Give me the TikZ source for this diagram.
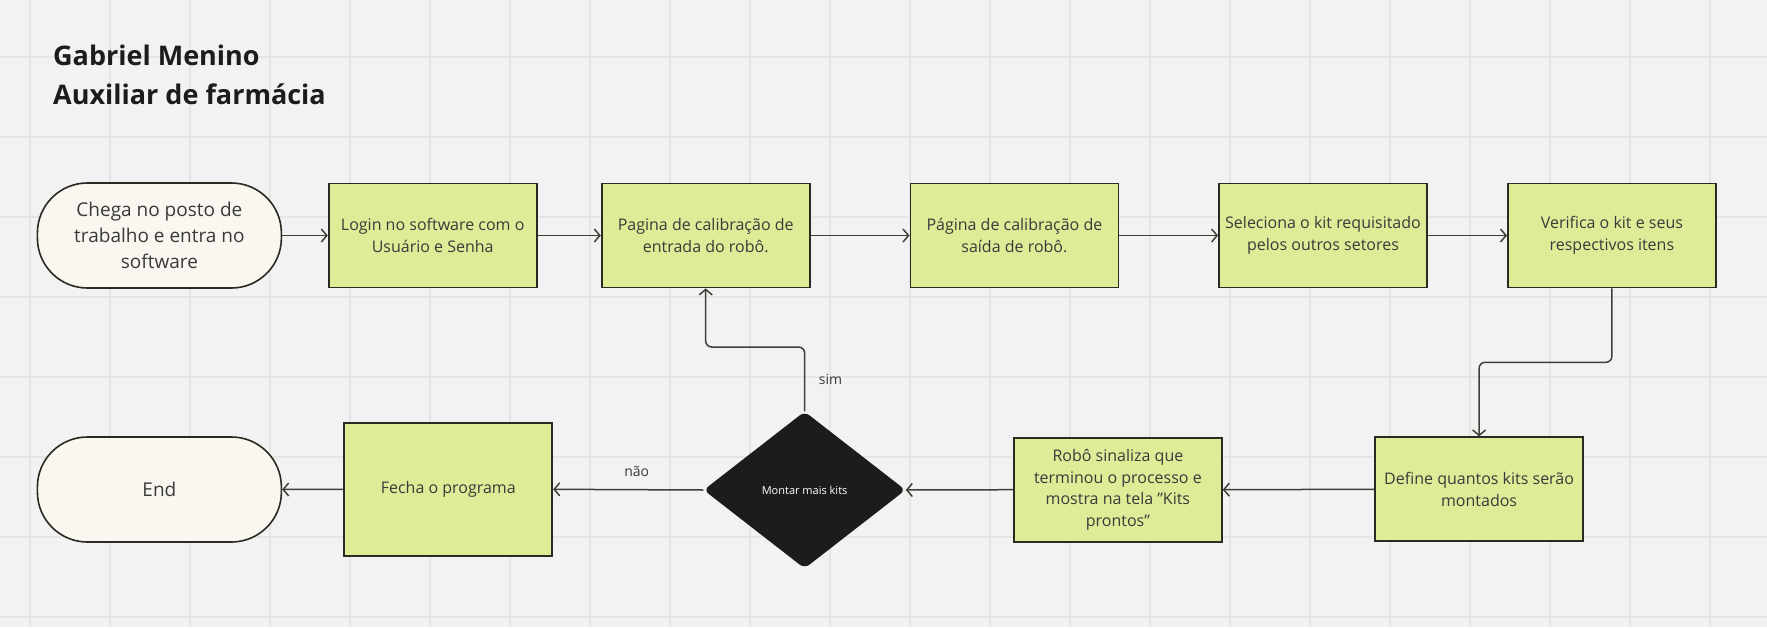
\documentclass[tikz,border=0pt]{standalone}
\usepackage{fontspec}
\setmainfont{Open Sans}
\usetikzlibrary{arrows.meta,shapes.geometric}
\definecolor{bg}{HTML}{F2F2F2}
\definecolor{gridc}{HTML}{E5E5E5}
\definecolor{boxfill}{HTML}{E0EB98}
\definecolor{termfill}{HTML}{FAF7F1}
\definecolor{edge}{HTML}{2A2A22}
\definecolor{txt}{HTML}{3A3A3A}
\definecolor{dark}{HTML}{1C1C1C}
\tikzset{
  procbox/.style={draw=edge, line width=1.8pt, fill=boxfill, minimum width=208pt, minimum height=104pt, inner sep=2pt, align=center, text=txt, font=\fontsize{16}{21.7}\selectfont},
  termbox/.style={draw=edge, line width=1.6pt, fill=termfill, rounded corners=50pt, minimum width=244pt, minimum height=105pt, align=center, text=txt, font=\fontsize{19}{26}\selectfont},
  decbox/.style={diamond, fill=dark, rounded corners=6pt, minimum width=202pt, minimum height=157pt, aspect=1.29, inner sep=0pt, text=white, font=\fontsize{11}{13}\selectfont},
  conn/.style={draw=edge!90, line width=1.5pt, -{Straight Barb[length=5.5pt,width=13pt,line width=1.5pt]}},
  lbl/.style={text=txt, font=\fontsize{14}{16}\selectfont},
  titlet/.style={anchor=base west, text=dark, font=\fontsize{27}{32}\bfseries\selectfont, inner sep=0pt},
}
\begin{document}
\begin{tikzpicture}[x=1pt,y=-1pt]
\fill[bg] (0,0) rectangle (1767,627);
\useasboundingbox (0,0) rectangle (1767,627);
\foreach \i in {0,...,21} { \draw[gridc, line width=1.4pt] (30+80*\i,0) -- (30+80*\i,627); }
\foreach \j in {0,...,7} { \draw[gridc, line width=1.4pt] (0,57+80*\j) -- (1767,57+80*\j); }

\node[titlet] (t1) at (53,65) {Gabriel Menino};
\node[titlet] (t2) at (53,104) {Auxiliar de farmácia};

\node[termbox] (start) at (159.4,235.5) {Chega no posto de\\trabalho e entra no\\software};
\node[procbox] (login) at (432.7,235.5) {Login no software com o\\Usuário e Senha};
\node[procbox] (calin) at (705.7,235.5) {Pagina de calibração de\\entrada do robô.};
\node[procbox] (calout) at (1014.4,235.5) {Página de calibração de\\saída de robô.};
\node[procbox] (sel) at (1323,235.5) {Seleciona o kit requisitado\\pelos outros setores};
\node[procbox] (ver) at (1611.9,235.5) {Verifica o kit e seus\\respectivos itens};
\node[procbox] (def) at (1479.1,489.3) {Define quantos kits serão\\montados};
\node[procbox] (robo) at (1117.9,489.7) {Robô sinaliza que\\terminou o processo e\\mostra na tela \symbol{34}Kits\\prontos\symbol{34}};
\node[decbox] (dec) at (804.6,490) {Montar mais kits};
\node[procbox, minimum height=133pt] (fecha) at (448.3,489.3) {Fecha o programa};
\node[termbox] (end) at (159.4,489.5) {End};

\coordinate (v1) at (1611.9,362.3);
\coordinate (v2) at (1479.1,362.3);
\coordinate (s1) at (804.6,347);
\coordinate (s2) at (705.7,347);

\draw[conn] (start.east) -- (login.west);
\draw[conn] (login.east) -- (calin.west);
\draw[conn] (calin.east) -- (calout.west);
\draw[conn] (calout.east) -- (sel.west);
\draw[conn] (sel.east) -- (ver.west);
\draw[conn, rounded corners=6pt] (ver.south) -- (v1) -- (v2) -- (def.north);
\draw[conn] (def.west) -- (robo.east);
\draw[conn] (robo.west) -- (dec.east);
\draw[conn] (dec.west) -- (fecha.east);
\node[lbl] (naolbl) at (636.7,471) {não};
\draw[conn, rounded corners=6pt] (dec.north) -- (s1) -- (s2) -- (calin.south);
\node[lbl] (simlbl) at (830.6,379) {sim};
\draw[conn] (fecha.west) -- (end.east);
\end{tikzpicture}
\end{document}
